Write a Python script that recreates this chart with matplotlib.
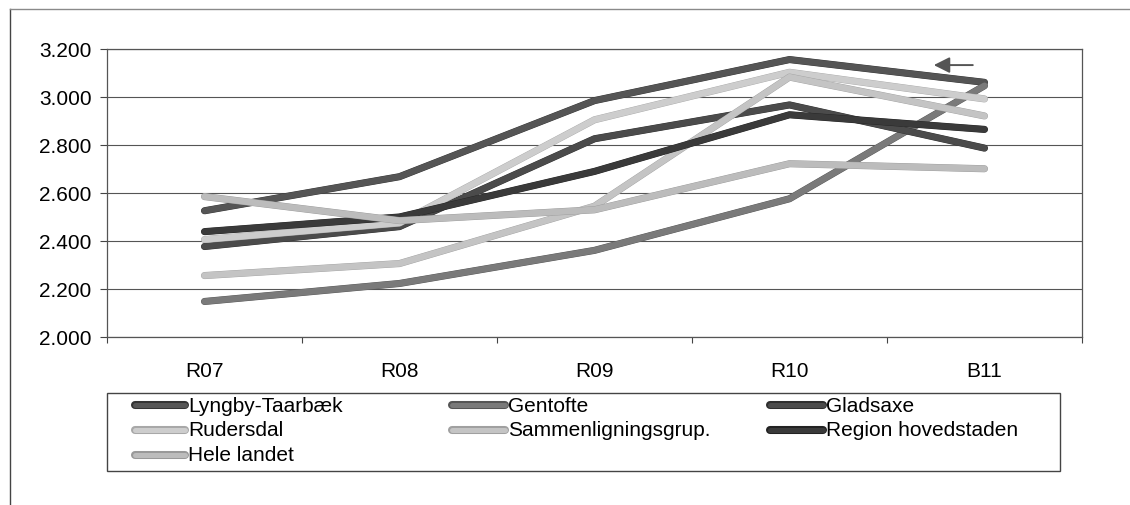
#!/usr/bin/env python
# -*- coding: utf-8 -*-

"""
Linjediagram: udvikling R07-B11 for Lyngby-Taarbæk og sammenligningskommuner.
Gemmer figuren som out.png.
"""

import matplotlib
matplotlib.use('Agg')
import matplotlib.pyplot as plt
import matplotlib.patheffects as pe
from matplotlib.lines import Line2D
from matplotlib.patches import Rectangle
from matplotlib.ticker import FixedLocator, FuncFormatter

# --- data ---
perioder = ['R07', 'R08', 'R09', 'R10', 'B11']

lyngby = [2526, 2668, 2985, 3156, 3061]
gentofte = [2148, 2223, 2361, 2576, 3047]
gladsaxe = [2377, 2460, 2826, 2967, 2787]
rudersdal = [2406, 2475, 2905, 3103, 2992]
sammenligning = [2256, 2306, 2545, 3083, 2921]
region = [2439, 2500, 2690, 2926, 2865]
hele_landet = [2585, 2485, 2530, 2722, 2701]

serie_navne = ['Lyngby-Taarbæk', 'Gentofte', 'Gladsaxe', 'Rudersdal',
               'Sammenligningsgrup.', 'Region hovedstaden', 'Hele landet']
serie_data = [lyngby, gentofte, gladsaxe, rudersdal,
              sammenligning, region, hele_landet]

y_ticks = [2000, 2200, 2400, 2600, 2800, 3000, 3200]

# --- stil ---
farver = ['#555555', '#7a7a7a', '#4b4b4b', '#cdcdcd',
          '#c4c4c4', '#3a3a3a', '#bcbcbc']
kant = ['#333333', '#555555', '#2e2e2e', '#a8a8a8',
        '#a0a0a0', '#222222', '#999999']

W, H = 1130, 506
plt.rcParams['font.family'] = ['Liberation Sans', 'DejaVu Sans']
plt.rcParams['font.size'] = 15


def fx(px):
    return px / W


def fy(py):
    return 1 - py / H


def tegn_diagram():
    fig = plt.figure(figsize=(W / 100, H / 100), dpi=100)
    fig.patch.set_facecolor('white')

    # ydre ramme (kun venstre og top er synlig)
    fig.add_artist(Line2D([fx(10), fx(10)], [0, fy(10)], color='#444444', lw=1.0))
    fig.add_artist(Line2D([fx(10), 1], [fy(10), fy(10)], color='#8a8a8a', lw=1.0))

    ax = fig.add_axes([fx(107), fy(338), fx(1082) - fx(107), fy(50) - fy(338)])
    x = list(range(len(perioder)))

    for data, navn, f, k in zip(serie_data, serie_navne, farver, kant):
        ax.plot(x, data, color=f, lw=4.6, solid_capstyle='round',
                solid_joinstyle='round', label=navn,
                path_effects=[pe.Stroke(linewidth=5.1, foreground=k), pe.Normal()])

    ax.set_xlim(-0.5, len(perioder) - 0.5)
    ax.set_ylim(y_ticks[0], y_ticks[-1])

    # kategorier midt i felterne, streger ved grænserne
    ax.xaxis.set_major_locator(FixedLocator(x))
    ax.set_xticklabels(perioder)
    ax.xaxis.set_minor_locator(FixedLocator([i - 0.5 for i in range(len(perioder) + 1)]))
    ax.tick_params(axis='x', which='major', length=0, pad=17, labelsize=15)
    ax.tick_params(axis='x', which='minor', length=4, width=0.8, color='#444444',
                   direction='out')

    ax.set_yticks(y_ticks)
    ax.yaxis.set_major_formatter(FuncFormatter(lambda v, p: f"{v:,.0f}".replace(',', '.')))
    ax.tick_params(axis='y', length=5, width=0.8, color='#444444', pad=6, labelsize=15)

    ax.grid(axis='y', color='#555555', lw=0.8)
    ax.set_axisbelow(True)
    for s in ax.spines.values():
        s.set_color('#555555')
        s.set_linewidth(0.9)

    # pil ved B11
    ax.annotate('', xy=(3.74, 3133), xytext=(3.94, 3133),
                arrowprops=dict(arrowstyle='-|>', color='#555555', lw=1.4,
                                mutation_scale=24, shrinkA=0, shrinkB=0))

    # forklaring, manuelt placeret som i originalen
    fig.add_artist(Rectangle((fx(107), fy(472)), fx(1060) - fx(107), fy(394) - fy(472),
                             fill=False, edgecolor='#444444', lw=1.0))
    kolonner = [(135, 185), (452, 505), (770, 823)]
    raekker = [406, 431, 456]
    placering = [(0, 0), (1, 0), (2, 0), (0, 1), (1, 1), (2, 1), (0, 2)]
    for (k, r), navn, f, kk in zip(placering, serie_navne, farver, kant):
        x0, x1 = kolonner[k]
        yy = raekker[r]
        fig.add_artist(Line2D([fx(x0), fx(x1)], [fy(yy), fy(yy)], color=f, lw=3.6,
                              solid_capstyle='round',
                              path_effects=[pe.Stroke(linewidth=5.8, foreground=kk),
                                            pe.Normal()]))
        fig.text(fx(x1 + 3), fy(yy), navn, va='center', ha='left', fontsize=15)

    return fig


def main():
    fig = tegn_diagram()
    fig.savefig('out.png', dpi=100)


if __name__ == "__main__":
    main()
